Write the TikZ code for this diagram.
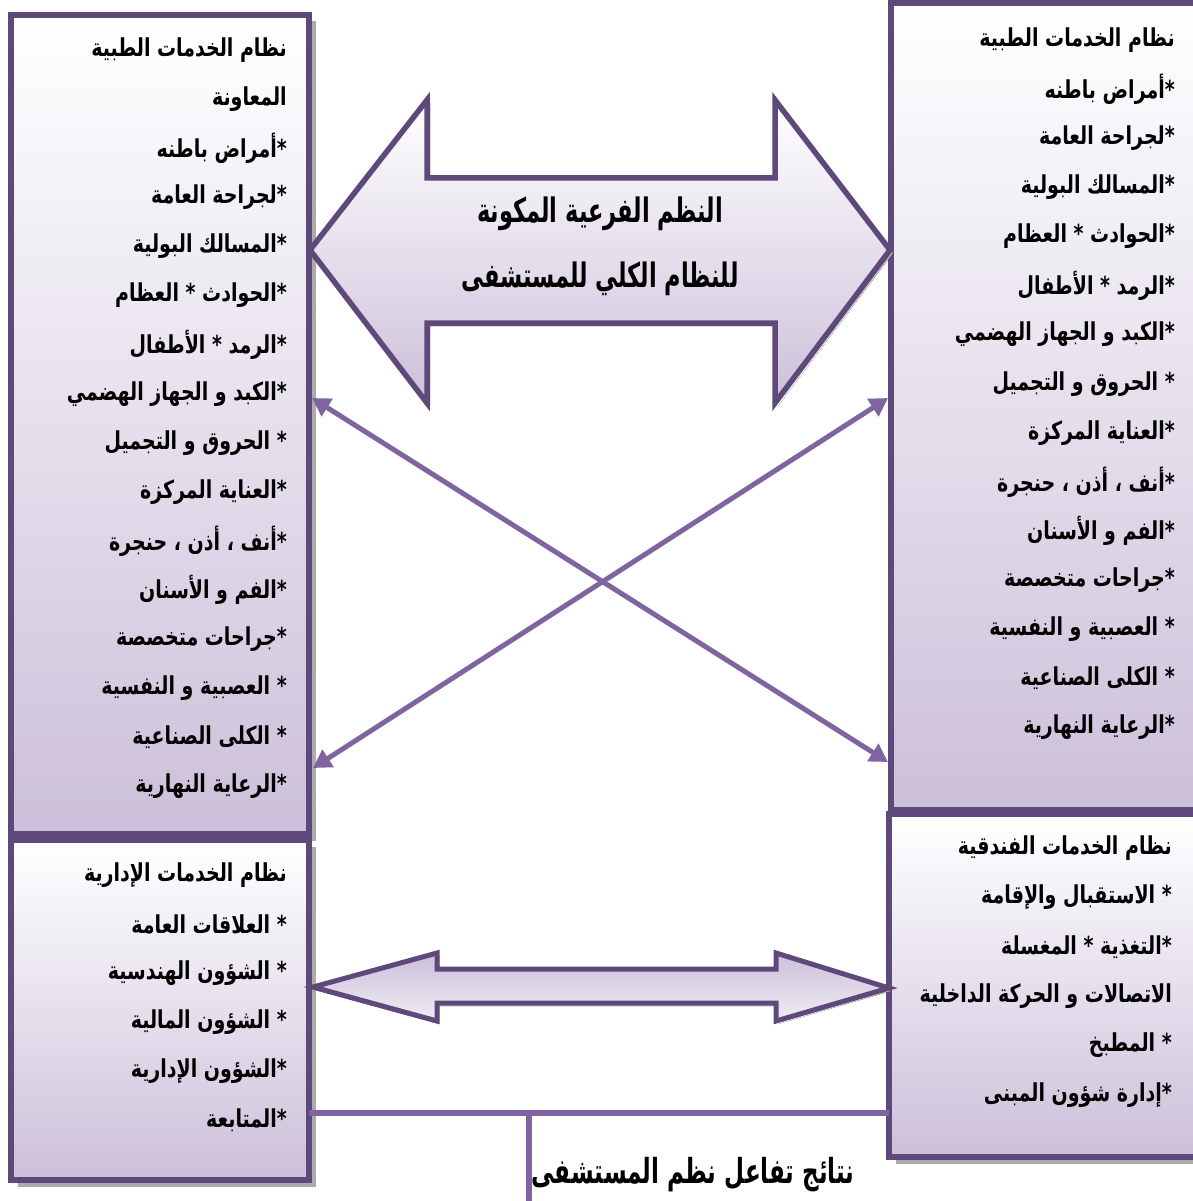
\documentclass[tikz,border=0pt]{standalone}
\usepackage{fontspec}
\TeXXeTstate=1
\newfontfamily\arabicfont[Script=Arabic]{DejaVu Sans}
\usetikzlibrary{arrows.meta,calc,shadows}
\definecolor{boxedge}{HTML}{5F497A}
\definecolor{linkpurple}{HTML}{8064A2}
\definecolor{lavender}{HTML}{CCC0DA}
\definecolor{shade}{HTML}{ABABAB}
% right-to-left line, set a little taller than the font's natural shape
\newcommand{\rtl}[1]{\scalebox{1}[1.3]{\beginR #1\endR}}
\newcommand{\rtltall}[1]{\scalebox{1}[1.5]{\beginR #1\endR}}

\begin{document}
\begin{tikzpicture}[x=1pt,y=-1pt,
  panel/.style={draw=boxedge, line width=6pt, top color=white, bottom color=lavender,
    anchor=north west, inner sep=0pt, outer sep=0pt,
    drop shadow={shadow xshift=6.5pt, shadow yshift=-6.5pt, fill=shade, opacity=1}},
  item/.style={anchor=east, inner sep=0pt, font=\arabicfont\bfseries\fontsize{19}{22}\selectfont},
  bigarrow/.style={draw=boxedge, line width=5.5pt, line join=miter, top color=white, bottom color=lavender},
  link/.style={draw=linkpurple, line width=5pt},
  linkarrows/.style={link, {Triangle[length=18pt 0,width=20pt 0]}-{Triangle[length=18pt 0,width=20pt 0]}},
  title/.style={font=\arabicfont\bfseries\fontsize{22.5}{65}\selectfont, align=center}
]
\useasboundingbox (0,0) rectangle (1192,1201);

% ---- the four subsystem panels ----
\node[panel, minimum width=298pt, minimum height=819pt] (tl) at (11,15) {};
\node[panel, minimum width=298pt, minimum height=340pt] (bl) at (11,840) {};
\node[panel, minimum width=320pt, minimum height=807pt] (tr) at (891,3) {};
\node[panel, minimum width=320pt, minimum height=343pt] (br) at (889,814) {};

% ---- panel contents ----
\foreach \t [count=\i] in {{نظام الخدمات الطبية},{المعاونة},{*أمراض باطنه},{*لجراحة العامة},
  {*المسالك البولية},{*الحوادث * العظام},{*الرمد * الأطفال},{*الكبد و الجهاز الهضمي},
  {* الحروق و التجميل},{*العناية المركزة},{*أنف ، أذن ، حنجرة},{*الفم و الأسنان},
  {*جراحات متخصصة},{* العصبية و النفسية},{* الكلى الصناعية},{*الرعاية النهارية}}
  \node[item] (tl-\i) at (287,{50+49.1*(\i-1)}) {\rtl{\t}};

\foreach \t [count=\i] in {{نظام الخدمات الطبية},{*أمراض باطنه},{*لجراحة العامة},
  {*المسالك البولية},{*الحوادث * العظام},{*الرمد * الأطفال},{*الكبد و الجهاز الهضمي},
  {* الحروق و التجميل},{*العناية المركزة},{*أنف ، أذن ، حنجرة},{*الفم و الأسنان},
  {*جراحات متخصصة},{* العصبية و النفسية},{* الكلى الصناعية},{*الرعاية النهارية}}
  \node[item] (tr-\i) at (1175,{40+49.1*(\i-1)}) {\rtl{\t}};

\foreach \t [count=\i] in {{نظام الخدمات الإدارية},{* العلاقات العامة},{* الشؤون الهندسية},
  {* الشؤون المالية},{*الشؤون الإدارية},{*المتابعة}}
  \node[item] (bl-\i) at (287,{875+49*(\i-1)}) {\rtl{\t}};

\foreach \t [count=\i] in {{نظام الخدمات الفندقية},{* الاستقبال والإقامة},{*التغذية  * المغسلة},
  {الاتصالات و الحركة الداخلية},{* المطبخ},{*إدارة شؤون المبنى}}
  \node[item] (br-\i) at (1172,{848+49.4*(\i-1)}) {\rtl{\t}};

% ---- central double arrow ----
\fill[shade] (313,253) -- (430,103) -- (430,181) -- (778,181) -- (778,103) -- (893,253)
  -- (778,406) -- (778,326) -- (430,326) -- (430,406) -- cycle;
\path[bigarrow] (310,250) -- (427,100) -- (427,178) -- (775,178) -- (775,100) -- (890,250)
  -- (775,403) -- (775,323) -- (427,323) -- (427,403) -- cycle;
\node[title] (hub) at (600,246) {\rtltall{النظم الفرعية المكونة}\\\rtltall{للنظام الكلي للمستشفى}};

% ---- lower double arrow ----
\fill[shade] (315,990) -- (439,956) -- (439,972) -- (778,972) -- (778,956) -- (891,991)
  -- (778,1024) -- (778,1006) -- (439,1006) -- (439,1024) -- cycle;
\path[bigarrow, line width=5pt, top color=lavender, bottom color=white!70!lavender] (313,987) -- (437,953) -- (437,969) -- (776,969) -- (776,953) -- (889,988)
  -- (776,1021) -- (776,1003) -- (437,1003) -- (437,1021) -- cycle;

% ---- crossing links between the upper panels ----
\coordinate (tlA) at (312,398);
\coordinate (tlB) at (313,768);
\coordinate (trA) at (888,398);
\coordinate (trB) at (888,762);
\draw[linkarrows] (tlA) -- (trB);
\draw[linkarrows] (trA) -- (tlB);

% ---- outcome feed ----
\coordinate (feed) at (529,1113);
\coordinate (feedend) at (529,1201);
\draw[link, line width=6pt] (bl.east |- feed) -- (br.west |- feed);
\draw[link, line width=6pt] (feed) -- (feedend);
\node[font=\arabicfont\bfseries\fontsize{23}{26}\selectfont, anchor=east] (outcome) at (858,1175)
  {\rtltall{نتائج تفاعل نظم المستشفى}};
\end{tikzpicture}
\end{document}
